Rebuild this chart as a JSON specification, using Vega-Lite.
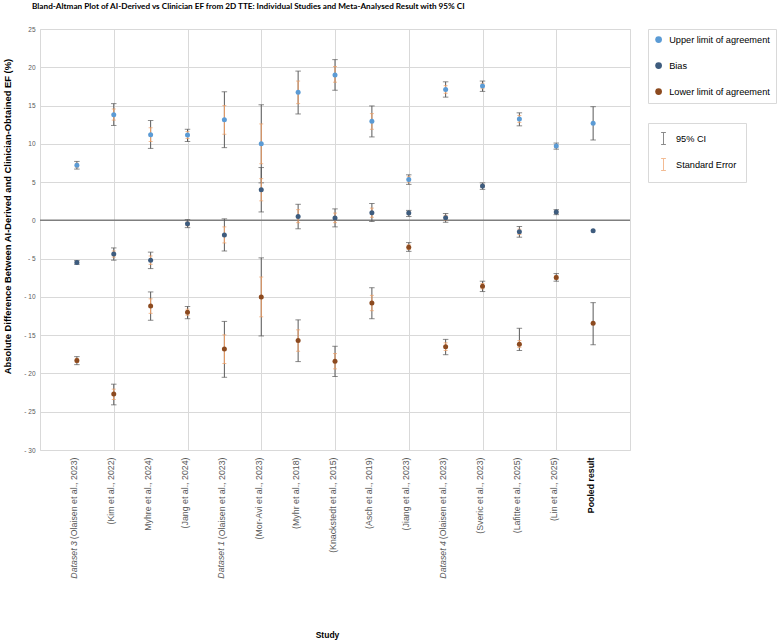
{
  "$schema": "https://vega.github.io/schema/vega-lite/v6.json",
  "autosize": {"type": "none"},
  "width": 590,
  "height": 421,
  "padding": {"left": 40, "top": 29, "right": 147, "bottom": 190},
  "background": "white",
  "title": {
    "text": "Bland-Altman Plot of AI-Derived vs Clinician EF from 2D TTE: Individual Studies and Meta-Analysed Result with 95% CI",
    "anchor": "start", "frame": "group", "dx": -8, "offset": 11, "baseline": "middle",
    "font": "Lato", "fontSize": 8.2, "fontWeight": "bold", "color": "#000000"
  },
  "config": {"view": {"stroke": "#d9d9d9"}, "font": "Liberation Sans"},
  "datasets": {
    "points": [
      {"study": "Dataset 3 (Olaisen et al., 2023)", "series": "Upper limit of agreement", "value": 7.2, "ci_low": 6.7, "ci_high": 7.7, "se_low": 6.95, "se_high": 7.45},
      {"study": "Dataset 3 (Olaisen et al., 2023)", "series": "Bias", "value": -5.5, "ci_low": -5.75, "ci_high": -5.25, "se_low": -5.63, "se_high": -5.37},
      {"study": "Dataset 3 (Olaisen et al., 2023)", "series": "Lower limit of agreement", "value": -18.3, "ci_low": -18.85, "ci_high": -17.8, "se_low": -18.57, "se_high": -18.03},
      {"study": "(Kim et al., 2022)", "series": "Upper limit of agreement", "value": 13.8, "ci_low": 12.4, "ci_high": 15.25, "se_low": 13.1, "se_high": 14.55},
      {"study": "(Kim et al., 2022)", "series": "Bias", "value": -4.4, "ci_low": -5.2, "ci_high": -3.6, "se_low": -4.8, "se_high": -4.0},
      {"study": "(Kim et al., 2022)", "series": "Lower limit of agreement", "value": -22.7, "ci_low": -24.1, "ci_high": -21.4, "se_low": -23.4, "se_high": -22.05},
      {"study": "Myhre et al., 2024)", "series": "Upper limit of agreement", "value": 11.2, "ci_low": 9.4, "ci_high": 13.05, "se_low": 10.3, "se_high": 12.1},
      {"study": "Myhre et al., 2024)", "series": "Bias", "value": -5.2, "ci_low": -6.3, "ci_high": -4.15, "se_low": -5.75, "se_high": -4.65},
      {"study": "Myhre et al., 2024)", "series": "Lower limit of agreement", "value": -11.2, "ci_low": -13.05, "ci_high": -9.35, "se_low": -12.15, "se_high": -10.25},
      {"study": "(Jang et al., 2024)", "series": "Upper limit of agreement", "value": 11.15, "ci_low": 10.3, "ci_high": 11.9, "se_low": 10.7, "se_high": 11.6},
      {"study": "(Jang et al., 2024)", "series": "Bias", "value": -0.45, "ci_low": -0.95, "ci_high": 0.1, "se_low": -0.7, "se_high": -0.2},
      {"study": "(Jang et al., 2024)", "series": "Lower limit of agreement", "value": -12.0, "ci_low": -12.85, "ci_high": -11.25, "se_low": -12.4, "se_high": -11.6},
      {"study": "Dataset 1 (Olaisen et al., 2023)", "series": "Upper limit of agreement", "value": 13.15, "ci_low": 9.5, "ci_high": 16.8, "se_low": 11.25, "se_high": 15.0},
      {"study": "Dataset 1 (Olaisen et al., 2023)", "series": "Bias", "value": -1.9, "ci_low": -4.0, "ci_high": 0.2, "se_low": -2.95, "se_high": -0.85},
      {"study": "Dataset 1 (Olaisen et al., 2023)", "series": "Lower limit of agreement", "value": -16.8, "ci_low": -20.5, "ci_high": -13.2, "se_low": -18.7, "se_high": -14.95},
      {"study": "(Mor-Avi et al., 2023)", "series": "Upper limit of agreement", "value": 10.0, "ci_low": 4.9, "ci_high": 15.1, "se_low": 7.4, "se_high": 12.6},
      {"study": "(Mor-Avi et al., 2023)", "series": "Bias", "value": 4.0, "ci_low": 1.1, "ci_high": 6.9, "se_low": 2.55, "se_high": 5.45},
      {"study": "(Mor-Avi et al., 2023)", "series": "Lower limit of agreement", "value": -10.0, "ci_low": -15.1, "ci_high": -4.9, "se_low": -12.6, "se_high": -7.4},
      {"study": "(Myhr et al., 2018)", "series": "Upper limit of agreement", "value": 16.75, "ci_low": 13.9, "ci_high": 19.5, "se_low": 15.25, "se_high": 18.2},
      {"study": "(Myhr et al., 2018)", "series": "Bias", "value": 0.5, "ci_low": -1.1, "ci_high": 2.1, "se_low": -0.3, "se_high": 1.4},
      {"study": "(Myhr et al., 2018)", "series": "Lower limit of agreement", "value": -15.7, "ci_low": -18.45, "ci_high": -13.0, "se_low": -17.1, "se_high": -14.3},
      {"study": "(Knackstedt et al., 2015)", "series": "Upper limit of agreement", "value": 19.0, "ci_low": 17.0, "ci_high": 21.0, "se_low": 18.05, "se_high": 20.1},
      {"study": "(Knackstedt et al., 2015)", "series": "Bias", "value": 0.3, "ci_low": -0.85, "ci_high": 1.5, "se_low": -0.3, "se_high": 0.95},
      {"study": "(Knackstedt et al., 2015)", "series": "Lower limit of agreement", "value": -18.4, "ci_low": -20.4, "ci_high": -16.45, "se_low": -19.4, "se_high": -17.4},
      {"study": "(Asch et al., 2019)", "series": "Upper limit of agreement", "value": 12.95, "ci_low": 10.9, "ci_high": 14.95, "se_low": 11.9, "se_high": 13.95},
      {"study": "(Asch et al., 2019)", "series": "Bias", "value": 1.0, "ci_low": -0.15, "ci_high": 2.2, "se_low": 0.4, "se_high": 1.6},
      {"study": "(Asch et al., 2019)", "series": "Lower limit of agreement", "value": -10.8, "ci_low": -12.85, "ci_high": -8.8, "se_low": -11.8, "se_high": -9.8},
      {"study": "(Jiang et al., 2023)", "series": "Upper limit of agreement", "value": 5.35, "ci_low": 4.7, "ci_high": 5.95, "se_low": 5.0, "se_high": 5.7},
      {"study": "(Jiang et al., 2023)", "series": "Bias", "value": 0.95, "ci_low": 0.5, "ci_high": 1.3, "se_low": 0.75, "se_high": 1.15},
      {"study": "(Jiang et al., 2023)", "series": "Lower limit of agreement", "value": -3.5, "ci_low": -4.05, "ci_high": -2.9, "se_low": -3.8, "se_high": -3.2},
      {"study": "Dataset 4 (Olaisen et al., 2023)", "series": "Upper limit of agreement", "value": 17.1, "ci_low": 16.1, "ci_high": 18.1, "se_low": 16.6, "se_high": 17.6},
      {"study": "Dataset 4 (Olaisen et al., 2023)", "series": "Bias", "value": 0.35, "ci_low": -0.25, "ci_high": 0.9, "se_low": 0.05, "se_high": 0.65},
      {"study": "Dataset 4 (Olaisen et al., 2023)", "series": "Lower limit of agreement", "value": -16.5, "ci_low": -17.55, "ci_high": -15.55, "se_low": -17.0, "se_high": -16.0},
      {"study": "(Sveric et al., 2023)", "series": "Upper limit of agreement", "value": 17.55, "ci_low": 16.85, "ci_high": 18.2, "se_low": 17.2, "se_high": 17.9},
      {"study": "(Sveric et al., 2023)", "series": "Bias", "value": 4.5, "ci_low": 4.05, "ci_high": 4.9, "se_low": 4.3, "se_high": 4.7},
      {"study": "(Sveric et al., 2023)", "series": "Lower limit of agreement", "value": -8.6, "ci_low": -9.3, "ci_high": -7.95, "se_low": -8.95, "se_high": -8.25},
      {"study": "(Lafitte et al., 2025)", "series": "Upper limit of agreement", "value": 13.25, "ci_low": 12.35, "ci_high": 14.05, "se_low": 12.8, "se_high": 13.7},
      {"study": "(Lafitte et al., 2025)", "series": "Bias", "value": -1.5, "ci_low": -2.2, "ci_high": -0.8, "se_low": -1.85, "se_high": -1.15},
      {"study": "(Lafitte et al., 2025)", "series": "Lower limit of agreement", "value": -16.2, "ci_low": -17.0, "ci_high": -14.1, "se_low": -16.6, "se_high": -15.7},
      {"study": "(Lin et al., 2025)", "series": "Upper limit of agreement", "value": 9.7, "ci_low": 9.3, "ci_high": 10.1, "se_low": 9.5, "se_high": 9.9},
      {"study": "(Lin et al., 2025)", "series": "Bias", "value": 1.1, "ci_low": 0.75, "ci_high": 1.4, "se_low": 0.9, "se_high": 1.25},
      {"study": "(Lin et al., 2025)", "series": "Lower limit of agreement", "value": -7.45, "ci_low": -7.95, "ci_high": -6.95, "se_low": -7.7, "se_high": -7.2},
      {"study": "Pooled result", "series": "Upper limit of agreement", "value": 12.7, "ci_low": 10.5, "ci_high": 14.85, "se_low": null, "se_high": null},
      {"study": "Pooled result", "series": "Bias", "value": -1.35, "ci_low": null, "ci_high": null, "se_low": null, "se_high": null},
      {"study": "Pooled result", "series": "Lower limit of agreement", "value": -13.45, "ci_low": -16.25, "ci_high": -10.75, "se_low": null, "se_high": null}
    ],
    "prefixes": [
      {"study": "Dataset 3 (Olaisen et al., 2023)", "prefix": "Dataset 3"},
      {"study": "Dataset 1 (Olaisen et al., 2023)", "prefix": "Dataset 1"},
      {"study": "Dataset 4 (Olaisen et al., 2023)", "prefix": "Dataset 4"}
    ]
  },
  "data": {"name": "points"},
  "layer": [
    {
      "mark": {"type": "circle", "size": 25, "opacity": 0},
      "encoding": {
        "x": {"field": "study", "type": "nominal", "title": "Study",
          "scale": {"type": "point", "padding": 1, "domain": ["Dataset 3 (Olaisen et al., 2023)", "(Kim et al., 2022)", "Myhre et al., 2024)", "(Jang et al., 2024)", "Dataset 1 (Olaisen et al., 2023)", "(Mor-Avi et al., 2023)", "(Myhr et al., 2018)", "(Knackstedt et al., 2015)", "(Asch et al., 2019)", "(Jiang et al., 2023)", "Dataset 4 (Olaisen et al., 2023)", "(Sveric et al., 2023)", "(Lafitte et al., 2025)", "(Lin et al., 2025)", "Pooled result"]},
          "axis": {"labelAngle": -90, "labelPadding": 7, "labelOffset": -3, "labelFont": "Liberation Sans", "labelFontSize": 8.8, "labelLimit": 0,
            "labelColor": {"condition": {"test": "datum.value == 'Pooled result'", "value": "#000000"}, "value": "#595959"},
            "labelFontWeight": {"condition": {"test": "datum.value == 'Pooled result'", "value": "bold"}, "value": "normal"},
            "labelExpr": "indexof(datum.label, '(') > 0 ? substring(datum.label, indexof(datum.label, '(')) : datum.label",
            "ticks": false, "domain": false, "grid": true, "gridColor": "#d9d9d9",
            "gridOpacity": {"condition": {"test": "indexof(['(Kim et al., 2022)', '(Jang et al., 2024)', '(Mor-Avi et al., 2023)', '(Knackstedt et al., 2015)', '(Jiang et al., 2023)', '(Sveric et al., 2023)', '(Lin et al., 2025)'], datum.value) >= 0", "value": 1}, "value": 0},
            "titleFont": "Liberation Sans", "titleFontSize": 8.5, "titleFontWeight": "bold", "titleColor": "#000000", "titleX": 287, "titleY": 184, "titleBaseline": "middle"}},
        "y": {"field": "value", "type": "quantitative", "title": "Absolute Difference Between AI-Derived and Clinician-Obtained EF (%)",
          "scale": {"domain": [-30, 25], "nice": false},
          "axis": {"values": [-30, -25, -20, -15, -10, -5, 0, 5, 10, 15, 20, 25], "tickCount": 12, "labelOverlap": false, "grid": true, "gridColor": "#d9d9d9", "ticks": false, "domain": false,
            "labelFont": "Liberation Sans", "labelFontSize": 6.5, "labelColor": "#595959", "labelPadding": 5,
            "labelExpr": "datum.value < 0 ? '- ' + (-datum.value) : datum.label",
            "titleFont": "Liberation Sans", "titleFontSize": 9.4, "titleFontWeight": "bold", "titleColor": "#000000", "titleX": -33, "titleY": 187, "titleBaseline": "middle"}}
      }
    },
    {
      "data": {"values": [{}]},
      "mark": {"type": "rule", "color": "#7f7f7f", "strokeWidth": 1.5},
      "encoding": {"y": {"datum": 0, "type": "quantitative", "title": "Absolute Difference Between AI-Derived and Clinician-Obtained EF (%)"}}
    },
    {
      "transform": [{"filter": "isValid(datum.ci_low)"}],
      "mark": {"type": "errorbar", "thickness": 1, "ticks": {"size": 5.5}},
      "encoding": {
        "x": {"field": "study", "type": "nominal", "title": "Study"},
        "y": {"field": "ci_low", "type": "quantitative", "title": "Absolute Difference Between AI-Derived and Clinician-Obtained EF (%)"},
        "y2": {"field": "ci_high"},
        "color": {"datum": "95% CI", "type": "nominal", "scale": {"domain": ["95% CI", "Standard Error"], "range": ["#595959", "#EE9F66"]},
          "legend": {"orient": "none", "legendX": 608, "legendY": 94, "title": null, "symbolType": "M-0.4,-1H0.4M0,-1V1M-0.4,1H0.4", "symbolSize": 144, "symbolStrokeWidth": 1, "symbolFillColor": "transparent", "labelFont": "Liberation Sans", "labelFontSize": 9.2, "labelColor": "#000000", "rowPadding": 9, "padding": 9, "labelOffset": 6, "strokeColor": "#d9d9d9", "fillColor": "white"}}
      }
    },
    {
      "transform": [{"filter": "isValid(datum.se_low)"}],
      "mark": {"type": "errorbar", "thickness": 1, "ticks": {"size": 4}},
      "encoding": {
        "x": {"field": "study", "type": "nominal", "title": "Study"},
        "y": {"field": "se_low", "type": "quantitative", "title": "Absolute Difference Between AI-Derived and Clinician-Obtained EF (%)"},
        "y2": {"field": "se_high"},
        "color": {"datum": "Standard Error", "type": "nominal"}
      }
    },
    {
      "mark": {"type": "circle", "size": 25, "opacity": 1},
      "encoding": {
        "x": {"field": "study", "type": "nominal", "title": "Study"},
        "y": {"field": "value", "type": "quantitative", "title": "Absolute Difference Between AI-Derived and Clinician-Obtained EF (%)"},
        "fill": {"field": "series", "type": "nominal", "scale": {"domain": ["Upper limit of agreement", "Bias", "Lower limit of agreement"], "range": ["#5B9BD5", "#3E5C7E", "#8C4A1F"]},
          "legend": {"orient": "none", "legendX": 608, "legendY": 0, "title": null, "symbolType": "circle", "symbolSize": 45, "symbolStrokeWidth": 0, "labelFont": "Liberation Sans", "labelFontSize": 9.2, "labelColor": "#000000", "rowPadding": 16, "padding": 6, "labelOffset": 6, "strokeColor": "#d9d9d9", "fillColor": "white"}}
      }
    },
    {
      "data": {"name": "prefixes"},
      "mark": {"type": "text", "angle": 270, "align": "right", "baseline": "middle", "dx": -91, "dy": -3, "font": "Liberation Sans", "fontSize": 8.8, "fontStyle": "italic", "color": "#595959"},
      "encoding": {
        "x": {"field": "study", "type": "nominal", "title": "Study"},
        "y": {"datum": -30, "type": "quantitative"},
        "text": {"field": "prefix"}
      }
    }
  ]
}
